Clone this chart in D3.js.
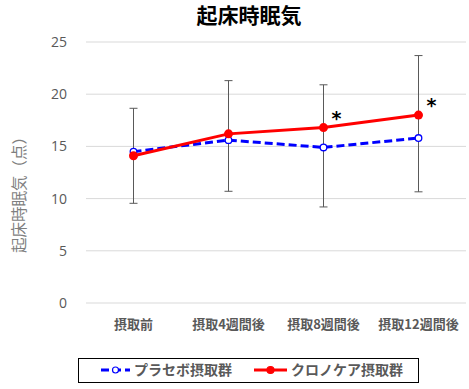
<!DOCTYPE html>
<html>
<head>
<meta charset="utf-8">
<script src="https://cdn.jsdelivr.net/npm/d3@7"></script>
<style>
  body { margin: 0; background: #fff; }
  text { font-family: "Noto Sans CJK JP", "Open Sans", sans-serif; }
</style>
</head>
<body>
<script>
// data
const categories = ['摂取前', '摂取4週間後', '摂取8週間後', '摂取12週間後'];
const placebo = [14.5, 15.6, 14.9, 15.8];
const chrono = [14.1, 16.2, 16.8, 18.0];
const errTop = [18.65, 21.3, 20.9, 23.7];
const errBottom = [9.55, 10.7, 9.2, 10.65];
const starred = [false, false, true, true];
const yTicks = [0, 5, 10, 15, 20, 25];

const width = 469, height = 389;
const margin = { top: 42, right: 3, bottom: 86, left: 86 };

const svg = d3.select('body').append('svg')
    .attr('width', width)
    .attr('height', height);

const x = d3.scaleBand()
    .domain(categories)
    .range([margin.left, width - margin.right]);

const y = d3.scaleLinear()
    .domain([0, 25])
    .range([height - margin.bottom, margin.top]);

const cx = d => x(d) + x.bandwidth() / 2;

// title
svg.append('text')
    .attr('x', 249)
    .attr('y', 23)
    .attr('text-anchor', 'middle')
    .attr('font-size', 21)
    .attr('font-weight', 'bold')
    .attr('fill', '#000')
    .text('起床時眠気');

// gridlines
svg.append('g')
    .selectAll('line')
    .data(yTicks)
    .enter().append('line')
    .attr('x1', margin.left)
    .attr('x2', width - margin.right)
    .attr('y1', d => y(d))
    .attr('y2', d => y(d))
    .attr('stroke', '#d9d9d9')
    .attr('stroke-width', 1);

// y axis labels
const yAxis = d3.axisLeft(y).tickValues(yTicks).tickSize(0).tickPadding(0);
const yg = svg.append('g')
    .attr('transform', `translate(${margin.left - 19},0)`)
    .call(yAxis);
yg.select('.domain').remove();
yg.selectAll('text')
    .attr('font-size', 14)
    .attr('fill', '#595959')
    .style('font-family', '"Open Sans", sans-serif');

// y axis title
svg.append('text')
    .attr('transform', 'translate(25,191) rotate(-90)')
    .attr('text-anchor', 'middle')
    .attr('font-size', 15.5)
    .attr('fill', '#7f7f7f')
    .text('起床時眠気（点）');

// x axis labels
const xAxis = d3.axisBottom(x).tickSize(0).tickPadding(0);
const xg = svg.append('g')
    .attr('transform', `translate(0,${y(0) + 17})`)
    .call(xAxis);
xg.select('.domain').remove();
xg.selectAll('text')
    .attr('font-size', 13)
    .attr('font-weight', 'bold')
    .attr('fill', '#595959');

// error bars
const eb = svg.append('g')
    .selectAll('g')
    .data(categories)
    .enter().append('g')
    .attr('stroke', '#595959')
    .attr('stroke-width', 1);
eb.append('line')
    .attr('x1', d => cx(d)).attr('x2', d => cx(d))
    .attr('y1', (d, i) => y(errTop[i]))
    .attr('y2', (d, i) => y(errBottom[i]));
eb.append('line')
    .attr('x1', d => cx(d) - 4).attr('x2', d => cx(d) + 4)
    .attr('y1', (d, i) => y(errTop[i]))
    .attr('y2', (d, i) => y(errTop[i]));
eb.append('line')
    .attr('x1', d => cx(d) - 4).attr('x2', d => cx(d) + 4)
    .attr('y1', (d, i) => y(errBottom[i]))
    .attr('y2', (d, i) => y(errBottom[i]));

const line = d3.line()
    .x((d, i) => cx(categories[i]))
    .y(d => y(d));

// placebo series
svg.append('path')
    .datum(placebo)
    .attr('fill', 'none')
    .attr('stroke', '#0000ff')
    .attr('stroke-width', 3)
    .attr('stroke-dasharray', '8,4')
    .attr('d', line);
svg.append('g')
    .selectAll('circle')
    .data(placebo)
    .enter().append('circle')
    .attr('cx', (d, i) => cx(categories[i]))
    .attr('cy', d => y(d))
    .attr('r', 3.3)
    .attr('fill', '#fff')
    .attr('stroke', '#0000ff')
    .attr('stroke-width', 1.3);

// chronocare series
svg.append('path')
    .datum(chrono)
    .attr('fill', 'none')
    .attr('stroke', '#ff0000')
    .attr('stroke-width', 3)
    .attr('d', line);
svg.append('g')
    .selectAll('circle')
    .data(chrono)
    .enter().append('circle')
    .attr('cx', (d, i) => cx(categories[i]))
    .attr('cy', d => y(d))
    .attr('r', 4.5)
    .attr('fill', '#ff0000');

// significance marks
svg.append('g')
    .selectAll('text')
    .data(categories.filter((d, i) => starred[i]))
    .enter().append('text')
    .attr('x', d => cx(d) + 13)
    .attr('y', d => y(chrono[categories.indexOf(d)]) - 3)
    .attr('text-anchor', 'middle')
    .attr('font-size', 19)
    .attr('font-weight', 'bold')
    .attr('fill', '#000')
    .style('font-family', '"DejaVu Sans", sans-serif')
    .text('*');

// legend
const lg = svg.append('g');
lg.append('rect')
    .attr('x', 78.5).attr('y', 358.5)
    .attr('width', 340).attr('height', 24)
    .attr('fill', '#fff')
    .attr('stroke', '#000')
    .attr('stroke-width', 1);

const legendItems = [
    { name: 'プラセボ摂取群', color: '#0000ff', dash: '8,4', x0: 101, x1: 130, r: 3, fill: '#fff' },
    { name: 'クロノケア摂取群', color: '#ff0000', dash: null, x0: 254, x1: 287, r: 3.5, fill: '#ff0000' }
];
const li = lg.selectAll('g.item')
    .data(legendItems)
    .enter().append('g')
    .attr('class', 'item');
li.append('line')
    .attr('x1', d => d.x0).attr('x2', d => d.x1)
    .attr('y1', 370).attr('y2', 370)
    .attr('stroke', d => d.color)
    .attr('stroke-width', 3)
    .attr('stroke-dasharray', d => d.dash);
li.append('circle')
    .attr('cx', d => (d.x0 + d.x1) / 2)
    .attr('cy', 370)
    .attr('r', d => d.r)
    .attr('fill', d => d.fill)
    .attr('stroke', d => d.color)
    .attr('stroke-width', 1.2);
li.append('text')
    .attr('x', d => d.x1 + 4)
    .attr('y', 370)
    .attr('dy', '0.35em')
    .attr('font-size', 14)
    .attr('font-weight', 'bold')
    .attr('fill', '#595959')
    .text(d => d.name);
</script>
</body>
</html>
